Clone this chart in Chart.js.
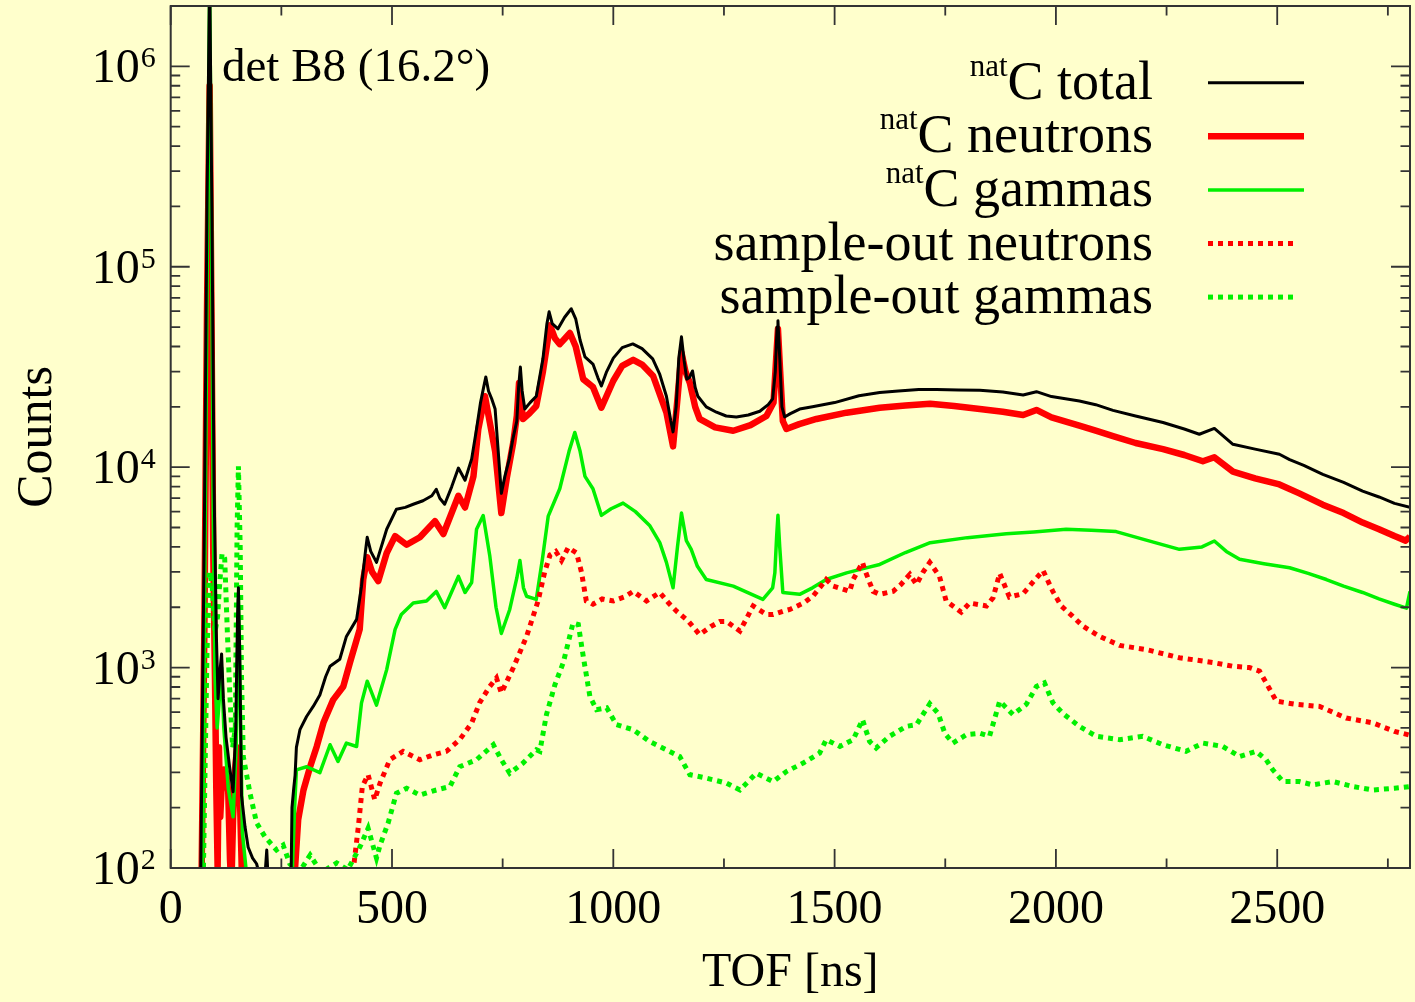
<!DOCTYPE html>
<html>
<head>
<meta charset="utf-8">
<script src="https://cdn.jsdelivr.net/npm/chart.js@4.4.0/dist/chart.umd.min.js"></script>
<style>
html, body { margin: 0; padding: 0; background: #ffffcc; }
canvas { display: block; }
</style>
</head>
<body>
<canvas id="tofChart" width="1415" height="1002"></canvas>
<script>
// TOF spectra, det B8 — values as [TOF ns, counts]
const serif = "'Liberation Serif', 'Times New Roman', serif";
const bg = "#ffffcc";
const frameColor = "#333333";

const xMajorTicks = [0, 500, 1000, 1500, 2000, 2500];
const xMinorStep = 250;
const yDecades = [100, 1000, 10000, 100000, 1000000];
const seriesSup = ["nat", "nat", "nat", "", ""];
const seriesNames = ["C total", "C neutrons", "C gammas", "sample-out neutrons", "sample-out gammas"];
const detLabel = "det B8 (16.2\u00b0)";

const totalCounts = [[60, 30], [68, 100], [76, 5000], [82, 200000], [88, 3000000], [93, 200000], [98, 8000], [103, 1500], [107, 700], [112, 1000], [115, 1170], [119, 700], [125, 450], [133, 320], [141, 240], [147, 500], [151, 1800], [153, 2500], [156, 1200], [160, 230], [168, 160], [175, 127], [185, 112], [194, 105], [202, 90], [212, 85], [217, 123], [221, 80], [250, 60], [271, 60], [274, 200], [278, 250], [281, 290], [284, 400], [292, 490], [307, 570], [322, 640], [337, 730], [350, 900], [360, 1015], [382, 1100], [397, 1430], [420, 1740], [431, 2540], [440, 3800], [444, 4470], [452, 3800], [465, 3350], [488, 4900], [510, 6170], [530, 6300], [548, 6530], [570, 6800], [590, 7200], [600, 7760], [608, 7000], [619, 6530], [635, 8000], [650, 9900], [665, 8600], [680, 11000], [691, 15500], [700, 21000], [707, 25000], [712, 28200], [718, 24000], [725, 22000], [733, 19500], [740, 12000], [747, 7400], [755, 9000], [765, 11000], [773, 13800], [782, 17000], [786, 25000], [790, 31600], [794, 24000], [800, 19500], [812, 21000], [826, 22600], [841, 34700], [850, 52000], [855, 59600], [862, 52000], [875, 49000], [890, 56000], [905, 61700], [915, 55000], [925, 43000], [936, 35500], [954, 32700], [965, 28000], [973, 25400], [985, 30000], [1000, 35000], [1020, 39500], [1044, 41200], [1065, 39000], [1089, 34700], [1105, 29000], [1120, 22600], [1130, 17000], [1135, 15000], [1142, 20000], [1148, 35000], [1154, 44700], [1160, 34000], [1166, 27500], [1172, 28000], [1179, 30200], [1185, 25000], [1191, 22600], [1210, 20000], [1233, 18800], [1255, 18000], [1278, 17800], [1305, 18200], [1331, 19000], [1350, 20500], [1360, 21900], [1366, 30000], [1370, 50000], [1372, 53700], [1376, 35000], [1381, 20000], [1387, 17800], [1400, 18500], [1421, 19500], [1450, 20000], [1500, 21000], [1555, 22700], [1602, 23600], [1644, 24000], [1690, 24400], [1730, 24400], [1780, 24300], [1828, 24200], [1880, 23700], [1926, 22900], [1956, 23800], [1990, 22500], [2053, 21400], [2090, 20500], [2129, 19200], [2180, 18000], [2242, 16700], [2290, 15500], [2324, 14600], [2358, 15600], [2400, 13000], [2450, 12300], [2505, 11600], [2528, 10900], [2560, 10200], [2603, 9200], [2650, 8400], [2693, 7600], [2730, 7100], [2765, 6600], [2800, 6300]];

const neutronCounts = [[64, 40], [70, 100], [76, 1500], [82, 60000], [88, 800000], [92, 60000], [96, 4000], [100, 900], [103, 250], [106, 100], [109, 400], [112, 180], [116, 280], [120, 310], [125, 300], [130, 240], [134, 110], [137, 80], [141, 180], [146, 320], [150, 400], [153, 380], [157, 200], [161, 90], [166, 60], [200, 40], [270, 40], [281, 100], [288, 174], [300, 245], [315, 320], [330, 404], [345, 530], [367, 690], [390, 805], [405, 1060], [427, 1550], [435, 2750], [444, 3550], [455, 3000], [469, 2700], [488, 3730], [507, 4530], [533, 4100], [563, 4470], [597, 5380], [616, 4640], [650, 7200], [665, 6290], [684, 9000], [695, 15500], [703, 19000], [710, 22600], [721, 16700], [733, 12000], [747, 5900], [760, 9000], [774, 13300], [782, 18000], [787, 26300], [796, 17400], [810, 18500], [826, 20200], [841, 30000], [857, 51000], [868, 44000], [879, 41100], [902, 46700], [915, 40000], [932, 27500], [954, 25100], [973, 19800], [1000, 27000], [1020, 32000], [1045, 34300], [1065, 32500], [1090, 28500], [1120, 18700], [1135, 12700], [1145, 22000], [1154, 37300], [1163, 30000], [1173, 26300], [1185, 20000], [1195, 17400], [1230, 15800], [1271, 15200], [1310, 16200], [1346, 18000], [1362, 21000], [1368, 35000], [1372, 48900], [1377, 30000], [1383, 17000], [1391, 15500], [1420, 16400], [1459, 17400], [1527, 18700], [1602, 19800], [1660, 20300], [1716, 20700], [1770, 20200], [1828, 19500], [1880, 18900], [1926, 18200], [1956, 19300], [1990, 17700], [2053, 16100], [2090, 15200], [2129, 14300], [2180, 13200], [2242, 12300], [2290, 11500], [2332, 10700], [2358, 11200], [2400, 9500], [2450, 8800], [2505, 8200], [2550, 7400], [2603, 6500], [2650, 5900], [2693, 5290], [2730, 4900], [2765, 4530], [2790, 4300], [2800, 4500]];

const gammaCounts = [[66, 40], [72, 100], [78, 5000], [84, 300000], [88, 2500000], [92, 200000], [96, 6000], [100, 900], [105, 500], [110, 700], [115, 1000], [120, 500], [130, 250], [141, 180], [148, 400], [153, 2200], [157, 700], [162, 150], [170, 100], [180, 70], [270, 50], [280, 200], [284, 309], [307, 320], [337, 299], [360, 412], [378, 340], [397, 420], [420, 404], [431, 665], [444, 855], [465, 650], [488, 977], [507, 1550], [521, 1840], [548, 2100], [578, 2150], [600, 2400], [619, 1990], [650, 2850], [665, 2370], [680, 2660], [691, 4900], [706, 5740], [721, 3600], [735, 2000], [747, 1480], [766, 1950], [782, 2800], [789, 3420], [797, 2500], [804, 2270], [826, 2190], [840, 3500], [853, 5700], [879, 7800], [900, 12000], [913, 14900], [925, 12000], [936, 9000], [954, 7800], [973, 5750], [995, 6200], [1022, 6620], [1050, 6000], [1082, 5120], [1105, 4200], [1120, 3350], [1135, 2500], [1145, 4000], [1154, 5900], [1165, 4300], [1176, 3890], [1190, 3200], [1210, 2750], [1271, 2550], [1338, 2190], [1360, 2500], [1365, 2970], [1369, 4500], [1372, 5750], [1376, 4000], [1383, 2370], [1421, 2320], [1450, 2500], [1481, 2750], [1527, 2970], [1560, 3100], [1602, 3270], [1660, 3750], [1716, 4200], [1800, 4450], [1888, 4650], [1950, 4750], [2023, 4900], [2080, 4850], [2136, 4770], [2200, 4350], [2279, 3890], [2330, 4000], [2358, 4280], [2385, 3800], [2415, 3470], [2470, 3300], [2528, 3150], [2570, 2950], [2611, 2750], [2650, 2550], [2693, 2370], [2730, 2200], [2765, 2070], [2792, 1980], [2800, 2400]];

const outNeutronCounts = [[405, 60], [413, 100], [424, 161], [433, 255], [446, 292], [461, 219], [473, 265], [495, 347], [525, 382], [563, 347], [593, 367], [623, 382], [653, 437], [680, 529], [698, 668], [720, 800], [736, 888], [747, 747], [774, 997], [804, 1430], [830, 2150], [845, 3000], [857, 3650], [870, 3800], [883, 3420], [898, 3970], [917, 3730], [928, 3000], [939, 2150], [954, 2070], [975, 2200], [1000, 2150], [1025, 2250], [1045, 2400], [1075, 2150], [1105, 2370], [1125, 2100], [1143, 1910], [1170, 1700], [1195, 1460], [1220, 1600], [1241, 1700], [1256, 1700], [1286, 1520], [1316, 2030], [1346, 1840], [1361, 1840], [1383, 1910], [1399, 1950], [1430, 2100], [1451, 2270], [1481, 2750], [1497, 2550], [1534, 2400], [1542, 2750], [1563, 3350], [1570, 3000], [1587, 2400], [1602, 2320], [1632, 2400], [1650, 2600], [1670, 2920], [1685, 2600], [1700, 3000], [1715, 3350], [1737, 2850], [1752, 2150], [1786, 1890], [1805, 2100], [1843, 2030], [1858, 2230], [1873, 2950], [1888, 2450], [1895, 2250], [1926, 2340], [1950, 2700], [1971, 3050], [1993, 2400], [2012, 2030], [2038, 1800], [2061, 1610], [2099, 1430], [2144, 1290], [2204, 1230], [2279, 1120], [2355, 1060], [2400, 1015], [2437, 1000], [2460, 960], [2475, 840], [2498, 680], [2543, 655], [2596, 640], [2656, 560], [2716, 530], [2765, 480], [2800, 460]];

const outGammaCounts = [[66, 40], [74, 100], [82, 1200], [88, 3000], [94, 2500], [100, 1500], [106, 1800], [110, 2500], [116, 3700], [122, 3500], [128, 1500], [134, 700], [140, 400], [146, 500], [150, 5000], [153, 10100], [157, 4000], [160, 900], [164, 360], [179, 237], [194, 168], [213, 143], [239, 123], [254, 130], [269, 105], [290, 95], [315, 116], [340, 95], [375, 106], [400, 98], [428, 128], [446, 158], [465, 112], [473, 130], [491, 167], [510, 236], [533, 250], [563, 231], [600, 245], [631, 255], [653, 320], [691, 347], [729, 412], [747, 347], [766, 297], [796, 334], [826, 389], [834, 382], [849, 583], [868, 820], [887, 1060], [909, 1670], [921, 1640], [932, 1140], [947, 720], [962, 617], [985, 630], [1007, 519], [1045, 490], [1082, 428], [1120, 389], [1150, 360], [1173, 292], [1210, 281], [1256, 265], [1286, 245], [1323, 297], [1361, 270], [1391, 303], [1429, 334], [1466, 374], [1481, 437], [1512, 404], [1542, 437], [1563, 550], [1579, 428], [1594, 397], [1624, 454], [1662, 509], [1685, 519], [1715, 660], [1734, 590], [1749, 470], [1767, 420], [1798, 463], [1828, 470], [1850, 454], [1873, 680], [1903, 583], [1933, 655], [1956, 805], [1974, 840], [1993, 668], [2016, 590], [2053, 509], [2091, 454], [2144, 437], [2196, 454], [2242, 412], [2294, 382], [2332, 420], [2377, 404], [2415, 360], [2452, 382], [2475, 347], [2490, 309], [2513, 270], [2550, 270], [2580, 260], [2626, 270], [2671, 255], [2716, 245], [2765, 250], [2800, 255]];

const toPoints = (pairs) => pairs.map(([x, y]) => ({ x: x, y: y }));

// background, frame with inward ticks, y labels, legend and the detector label
const framePlugin = {
    id: "frame",
    beforeDraw(chart) {
        const ctx = chart.ctx;
        ctx.save();
        ctx.fillStyle = bg;
        ctx.fillRect(0, 0, chart.width, chart.height);
        ctx.restore();
    },
    afterDatasetsDraw(chart) {
        const ctx = chart.ctx;
        const a = chart.chartArea;
        const x = chart.scales.x;
        const y = chart.scales.y;
        ctx.save();
        ctx.strokeStyle = frameColor;
        ctx.lineWidth = 1.8;
        ctx.beginPath();
        for (let v = x.min; v <= x.max; v += xMinorStep) {
            const px = x.getPixelForValue(v);
            const len = xMajorTicks.includes(v) ? 19 : 9.5;
            ctx.moveTo(px, a.bottom);
            ctx.lineTo(px, a.bottom - len);
            ctx.moveTo(px, a.top);
            ctx.lineTo(px, a.top + len);
        }
        yDecades.forEach((d) => {
            for (let k = 1; k <= 9; k++) {
                const v = d * k;
                if (v > y.max) break;
                const py = y.getPixelForValue(v);
                const len = k === 1 ? 19 : 9.5;
                ctx.moveTo(a.left, py);
                ctx.lineTo(a.left + len, py);
                ctx.moveTo(a.right, py);
                ctx.lineTo(a.right - len, py);
            }
        });
        ctx.stroke();
        ctx.lineWidth = 2;
        ctx.strokeRect(a.left, a.top, a.right - a.left, a.bottom - a.top);

        // y tick labels as 10^n
        ctx.fillStyle = "#000";
        ctx.textAlign = "right";
        ctx.textBaseline = "alphabetic";
        yDecades.forEach((d) => {
            const py = y.getPixelForValue(d);
            const exp = String(Math.round(Math.log10(d)));
            const right = a.left - 15;
            ctx.font = "30px " + serif;
            const supW = ctx.measureText(exp).width;
            ctx.fillText(exp, right, py + 1);
            ctx.font = "48px " + serif;
            ctx.fillText("10", right - supW - 1, py + 16);
        });

        // detector label
        ctx.textAlign = "left";
        ctx.font = "47px " + serif;
        ctx.fillText(detLabel, 222, 81);

        // legend, text right-aligned with the line sample to its right
        chart.data.datasets.forEach((ds, i) => {
            const rowY = 82.7 + i * 53.6;
            ctx.save();
            ctx.strokeStyle = ds.borderColor;
            ctx.lineWidth = ds.borderWidth;
            ctx.setLineDash(ds.borderDash || []);
            ctx.lineCap = "butt";
            ctx.beginPath();
            ctx.moveTo(1208, rowY);
            ctx.lineTo(ds.borderDash ? 1298 : 1304, rowY);
            ctx.stroke();
            ctx.restore();
            ctx.textAlign = "right";
            ctx.font = "54px " + serif;
            ctx.fillText(seriesNames[i], 1153, rowY + 16);
            if (seriesSup[i]) {
                const w = ctx.measureText(seriesNames[i]).width;
                ctx.font = "31px " + serif;
                ctx.fillText(seriesSup[i], 1153 - w, rowY - 7);
            }
        });
        ctx.restore();
    },
};

const styles = [
    { color: "#000000", width: 3, dash: null, order: 0 },
    { color: "#ff0000", width: 6.5, dash: null, order: 4 },
    { color: "#00f000", width: 3.5, dash: null, order: 3 },
    { color: "#ff0000", width: 5, dash: [5, 5], order: 2 },
    { color: "#00f000", width: 5, dash: [5, 5], order: 1 },
];
const seriesData = [totalCounts, neutronCounts, gammaCounts, outNeutronCounts, outGammaCounts];

const datasets = seriesData.map((pairs, i) => {
    const ds = {
        label: seriesSup[i] + seriesNames[i],
        data: toPoints(pairs),
        borderColor: styles[i].color,
        borderWidth: styles[i].width,
        pointRadius: 0,
        fill: false,
        tension: 0,
        clip: 0,
        order: styles[i].order,
        borderJoinStyle: "round",
        borderCapStyle: "butt",
    };
    if (styles[i].dash) {
        ds.borderDash = styles[i].dash;
        ds.borderJoinStyle = "miter";
    }
    return ds;
});

const tofCtx = document.getElementById("tofChart").getContext("2d");
new Chart(tofCtx, {
    type: "line",
    data: { datasets: datasets },
    options: {
        responsive: false,
        animation: false,
        events: [],
        layout: { padding: { top: 6, right: 5, left: 0, bottom: 0 } },
        plugins: {
            legend: { display: false },
            tooltip: { enabled: false },
        },
        scales: {
            x: {
                type: "linear",
                min: 0,
                max: 2800,
                afterBuildTicks: (s) => {
                    s.ticks = xMajorTicks.map((v) => ({ value: v }));
                },
                afterFit: (s) => {
                    s.height = 134;
                },
                grid: { display: false, drawTicks: false },
                border: { display: false },
                ticks: {
                    color: "#000",
                    font: { family: serif, size: 48 },
                    padding: 14,
                    maxRotation: 0,
                    autoSkip: false,
                    callback: (v) => String(v),
                },
                title: {
                    display: true,
                    text: "TOF [ns]",
                    color: "#000",
                    font: { family: serif, size: 48 },
                    padding: { top: 0, bottom: 0 },
                },
            },
            y: {
                type: "logarithmic",
                min: 100,
                max: 2000000,
                afterBuildTicks: (s) => {
                    s.ticks = yDecades.map((v) => ({ value: v }));
                },
                afterFit: (s) => {
                    s.width = 170.7;
                },
                grid: { display: false, drawTicks: false },
                border: { display: false },
                ticks: { display: false },
                title: {
                    display: true,
                    text: "Counts",
                    color: "#000",
                    font: { family: serif, size: 50 },
                    padding: { top: 8, bottom: 0 },
                },
            },
        },
    },
    plugins: [framePlugin],
});
</script>
</body>
</html>
